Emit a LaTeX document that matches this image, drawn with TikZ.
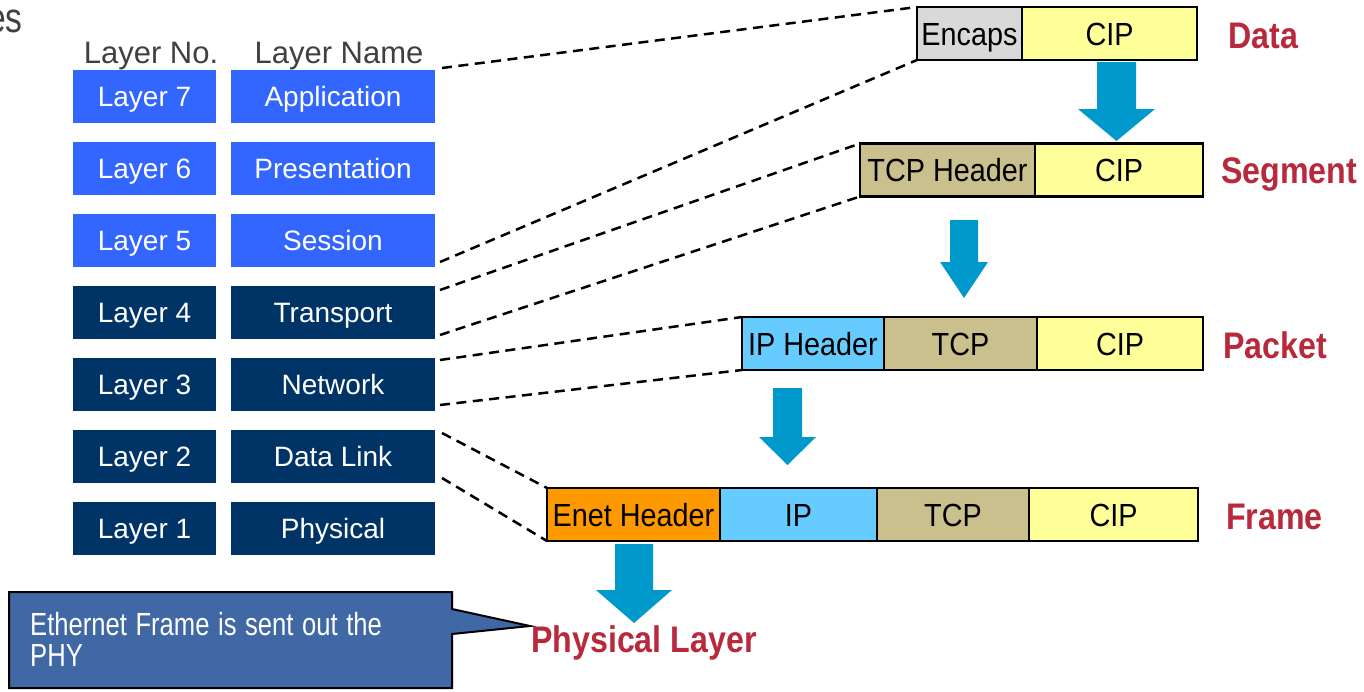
\documentclass[tikz,border=0pt]{standalone}
\usepackage{fontspec}
\usetikzlibrary{calc}
\setmainfont{Liberation Sans}
\newfontfamily\narrowfont[FakeStretch=0.9]{Liberation Sans}
\newfontfamily\labelfont[FakeStretch=0.87]{Liberation Sans}
\newfontfamily\callfont[FakeStretch=0.8]{Liberation Sans}
\definecolor{lblue}{HTML}{3366FF}
\definecolor{navy}{HTML}{003366}
\definecolor{hdgray}{HTML}{404040}
\definecolor{encgray}{HTML}{D9D9D9}
\definecolor{cipyel}{HTML}{FFFF99}
\definecolor{tcptan}{HTML}{C9C08E}
\definecolor{iplb}{HTML}{66CCFF}
\definecolor{enetor}{HTML}{FF9900}
\definecolor{arrowblue}{HTML}{0099CC}
\definecolor{lred}{HTML}{B8293B}
\definecolor{callblue}{HTML}{4068A5}
\newcommand\blkarrow[6]{\fill[arrowblue] (#1-#3,#2) -- (#1+#3,#2) -- (#1+#3,#4) -- (#1+#5,#4) -- (#1,#6) -- (#1-#5,#4) -- (#1-#3,#4) -- cycle;}
\newcommand\tightspace{\spaceskip=8.6pt\relax}
\tikzset{
  lay/.style={inner sep=0pt, outer sep=0pt, minimum height=53pt, text=white, text height=20pt, text depth=0pt, font=\fontsize{28}{31}\selectfont},
  num/.style={lay, minimum width=143pt},
  nam/.style={lay, minimum width=204pt},
  upper/.style={fill=lblue},
  lower/.style={fill=navy},
  hdr/.style={anchor=base, inner sep=0pt, text=hdgray, font=\fontsize{31}{34}\selectfont},
  fld/.style={draw=black, line width=2.5pt, inner sep=0pt, outer sep=0pt, minimum height=53pt, text height=23pt, text depth=0pt, font=\narrowfont\fontsize{32}{35}\selectfont},
  lbl/.style={anchor=base west, inner sep=0pt, text=lred, font=\labelfont\bfseries\fontsize{37}{40}\selectfont},
  dsh/.style={dash pattern=on 10pt off 6.5pt, line width=2.5pt},
}
\begin{document}
\begin{tikzpicture}[x=1pt,y=-1pt]
\useasboundingbox (0,0) rectangle (1364,691);
% cut-off title
\node[anchor=base east, inner sep=0pt, text=hdgray, font=\callfont\fontsize{42}{46}\selectfont] (ttl) at (23,32) {es};
% headers
\node[hdr] (hno) at (151,63) {Layer No.};
\node[hdr] (hname) at (339,63) {Layer Name};
% layer boxes
\node[num,upper] (n7) at (144.5,96.5) {Layer 7};
\node[nam,upper] (l7) at (333,96.5) {Application};
\node[num,upper] (n6) at (144.5,168.5) {Layer 6};
\node[nam,upper] (l6) at (333,168.5) {Presentation};
\node[num,upper] (n5) at (144.5,240.5) {Layer 5};
\node[nam,upper] (l5) at (333,240.5) {Session};
\node[num,lower] (n4) at (144.5,312.5) {Layer 4};
\node[nam,lower] (l4) at (333,312.5) {Transport};
\node[num,lower] (n3) at (144.5,384.5) {Layer 3};
\node[nam,lower] (l3) at (333,384.5) {Network};
\node[num,lower] (n2) at (144.5,456.5) {Layer 2};
\node[nam,lower] (l2) at (333,456.5) {Data Link};
\node[num,lower] (n1) at (144.5,528.5) {Layer 1};
\node[nam,lower] (l1) at (333,528.5) {Physical};
% Data row
\node[fld, fill=encgray, minimum width=105pt] (enc) at (969.5,33.5) {Encaps};
\node[fld, fill=cipyel, minimum width=175pt] (dcip) at (1109.5,33.5) {CIP};
\node[lbl] (ldata) at (1228,48) {Data};
% Segment row
\node[fld, fill=tcptan, minimum width=175pt] (stcp) at (947.5,170) {TCP Header};
\node[fld, fill=cipyel, minimum width=168pt] (scip) at (1119,170) {CIP};
\node[lbl] (lseg) at (1221,183) {Segment};
% Packet row
\node[fld, fill=iplb, minimum width=142pt] (pip) at (813,343.5) {IP Header};
\node[fld, fill=tcptan, minimum width=153pt] (ptcp) at (960.5,343.5) {TCP};
\node[fld, fill=cipyel, minimum width=166pt] (pcip) at (1120,343.5) {CIP};
\node[lbl] (lpkt) at (1223,358) {Packet};
% Frame row
\node[fld, fill=enetor, minimum width=173pt] (fen) at (633.5,514.5) {Enet Header};
\node[fld, fill=iplb, minimum width=157pt] (fip) at (798.5,514.5) {IP};
\node[fld, fill=tcptan, minimum width=152pt] (ftcp) at (953,514.5) {TCP};
\node[fld, fill=cipyel, minimum width=169pt] (fcip) at (1113.5,514.5) {CIP};
\node[lbl] (lfrm) at (1226,529) {Frame};
% Physical layer label
\node[lbl] (lphy) at (531,652) {Physical Layer};
% block arrows
\blkarrow{1116.5}{62}{19.5}{109}{38.5}{141}
\blkarrow{964}{220}{14}{262}{24}{298}
\blkarrow{787.5}{388}{14.5}{437}{28.5}{465}
\blkarrow{634}{544}{19}{590}{38}{623}
% dashed connectors
\draw[dsh] ($(l7.north east)+(7,-2)$) -- (enc.north west);
\draw[dsh] ($(l5.south east)+(5,-5)$) -- (enc.south west);
\draw[dsh] ($(l4.north east)+(5,4)$) -- (stcp.north west);
\draw[dsh] ($(l4.south east)+(5,-4)$) -- (stcp.south west);
\draw[dsh] ($(l3.north east)+(5,2)$) -- (pip.north west);
\draw[dsh] ($(l3.south east)+(5,-6)$) -- (pip.south west);
\draw[dsh] ($(l2.north east)+(7,3)$) -- (fen.north west);
\draw[dsh] ($(l2.south east)+(7,-5)$) -- (fen.south west);
% callout
\filldraw[fill=callblue, draw=black, line width=2pt] (9,592) -- (452,592) -- (452,609) -- (530,626) -- (452,634) -- (452,688) -- (9,688) -- cycle;
\node[anchor=west, inner sep=0pt, text=white, text width=410pt, align=left, font=\callfont\fontsize{32}{31}\selectfont] (call) at (30,639) {\tightspace Ethernet Frame is sent out the\\PHY};
\end{tikzpicture}
\end{document}
